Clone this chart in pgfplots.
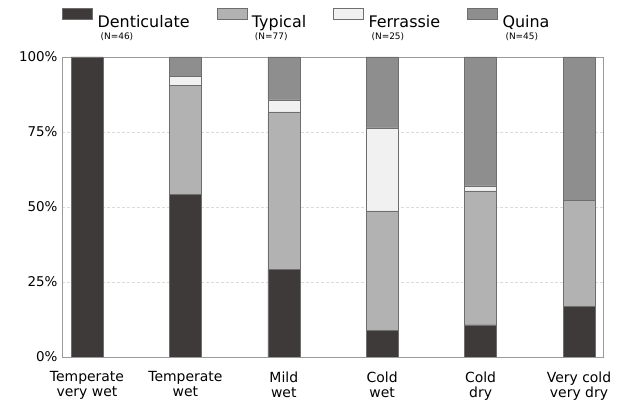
\documentclass[border=0pt]{standalone}
\usepackage{fontspec}
\setmainfont{DejaVu Sans}
\usepackage{pgfplots}
\pgfplotsset{compat=1.18}
\definecolor{dent}{HTML}{3D3A39}
\definecolor{typ}{HTML}{B2B2B2}
\definecolor{ferr}{HTML}{F1F1F1}
\definecolor{quina}{HTML}{8E8E8E}
\definecolor{edge}{HTML}{6E6E6E}
\definecolor{framec}{HTML}{9A9A9A}

% legend entry: name with the sample size under it
\newcommand{\leg}[2]{\begin{tabular}[t]{@{}l@{}}#1\\[-7bp]\hspace{3bp}{\fontsize{9}{9}\selectfont(N=#2)}\end{tabular}}

\pgfplotsset{boxlegend/.style={legend image code/.code={\draw[##1] (0bp,2.5bp) rectangle (30bp,13.5bp);}}}

\begin{document}
\begin{tikzpicture}
\path[use as bounding box] (0bp,0bp) rectangle (623bp,402bp);
\begin{axis}[
  at={(62bp,45bp)}, anchor=south west,
  scale only axis, width=541bp, height=300bp,
  xmin=-0.254, xmax=5.244, ymin=0, ymax=100,
  ybar stacked, bar width=0.325,
  axis line style={framec, line width=0.6pt},
  xtick={0,...,5},
  xticklabels={{Temperate\\very wet},{Temperate\\wet},{Mild\\wet},{Cold\\wet},{Cold\\dry},{Very cold\\very dry}},
  ytick={0,25,50,75,100},
  yticklabel={\pgfmathprintnumber{\tick}\%},
  major tick length=0pt,
  ymajorgrids, grid style={densely dashed, black!14, line width=0.5pt},
  xticklabel style={align=center, font=\fontsize{14}{15}\selectfont, yshift=-11bp},
  yticklabel style={font=\fontsize{13.5}{14}\selectfont, xshift=-1bp},
  /pgf/number format/assume math mode=true,
  legend columns=4,
  legend style={draw=none, fill=none, inner sep=0pt, at={(0,1)}, anchor=north west, yshift=49bp,
    font=\fontsize{16}{19}\selectfont,
    nodes={inner sep=0pt},
    /tikz/every even column/.append style={column sep=27bp},
    /tikz/every odd column/.append style={column sep=5bp}},
  every axis plot/.append style={draw=edge, line width=0.4pt},
]
\addplot[fill=dent, boxlegend] coordinates {(0,100) (1,54.1) (2,29.2) (3,8.9) (4,10.7) (5,16.9)};
\addlegendentry{\leg{Denticulate}{46}}
\addplot[fill=typ, boxlegend] coordinates {(0,0) (1,36.4) (2,52.5) (3,39.8) (4,44.7) (5,35.4)};
\addlegendentry{\leg{Typical}{77}}
\addplot[fill=ferr, boxlegend] coordinates {(0,0) (1,3.1) (2,4.0) (3,27.7) (4,1.6) (5,0)};
\addlegendentry{\leg{Ferrassie}{25}}
\addplot[fill=quina, boxlegend] coordinates {(0,0) (1,6.4) (2,14.3) (3,23.6) (4,43.0) (5,47.7)};
\addlegendentry{\leg{Quina}{45}}
\end{axis}
\end{tikzpicture}
\end{document}
